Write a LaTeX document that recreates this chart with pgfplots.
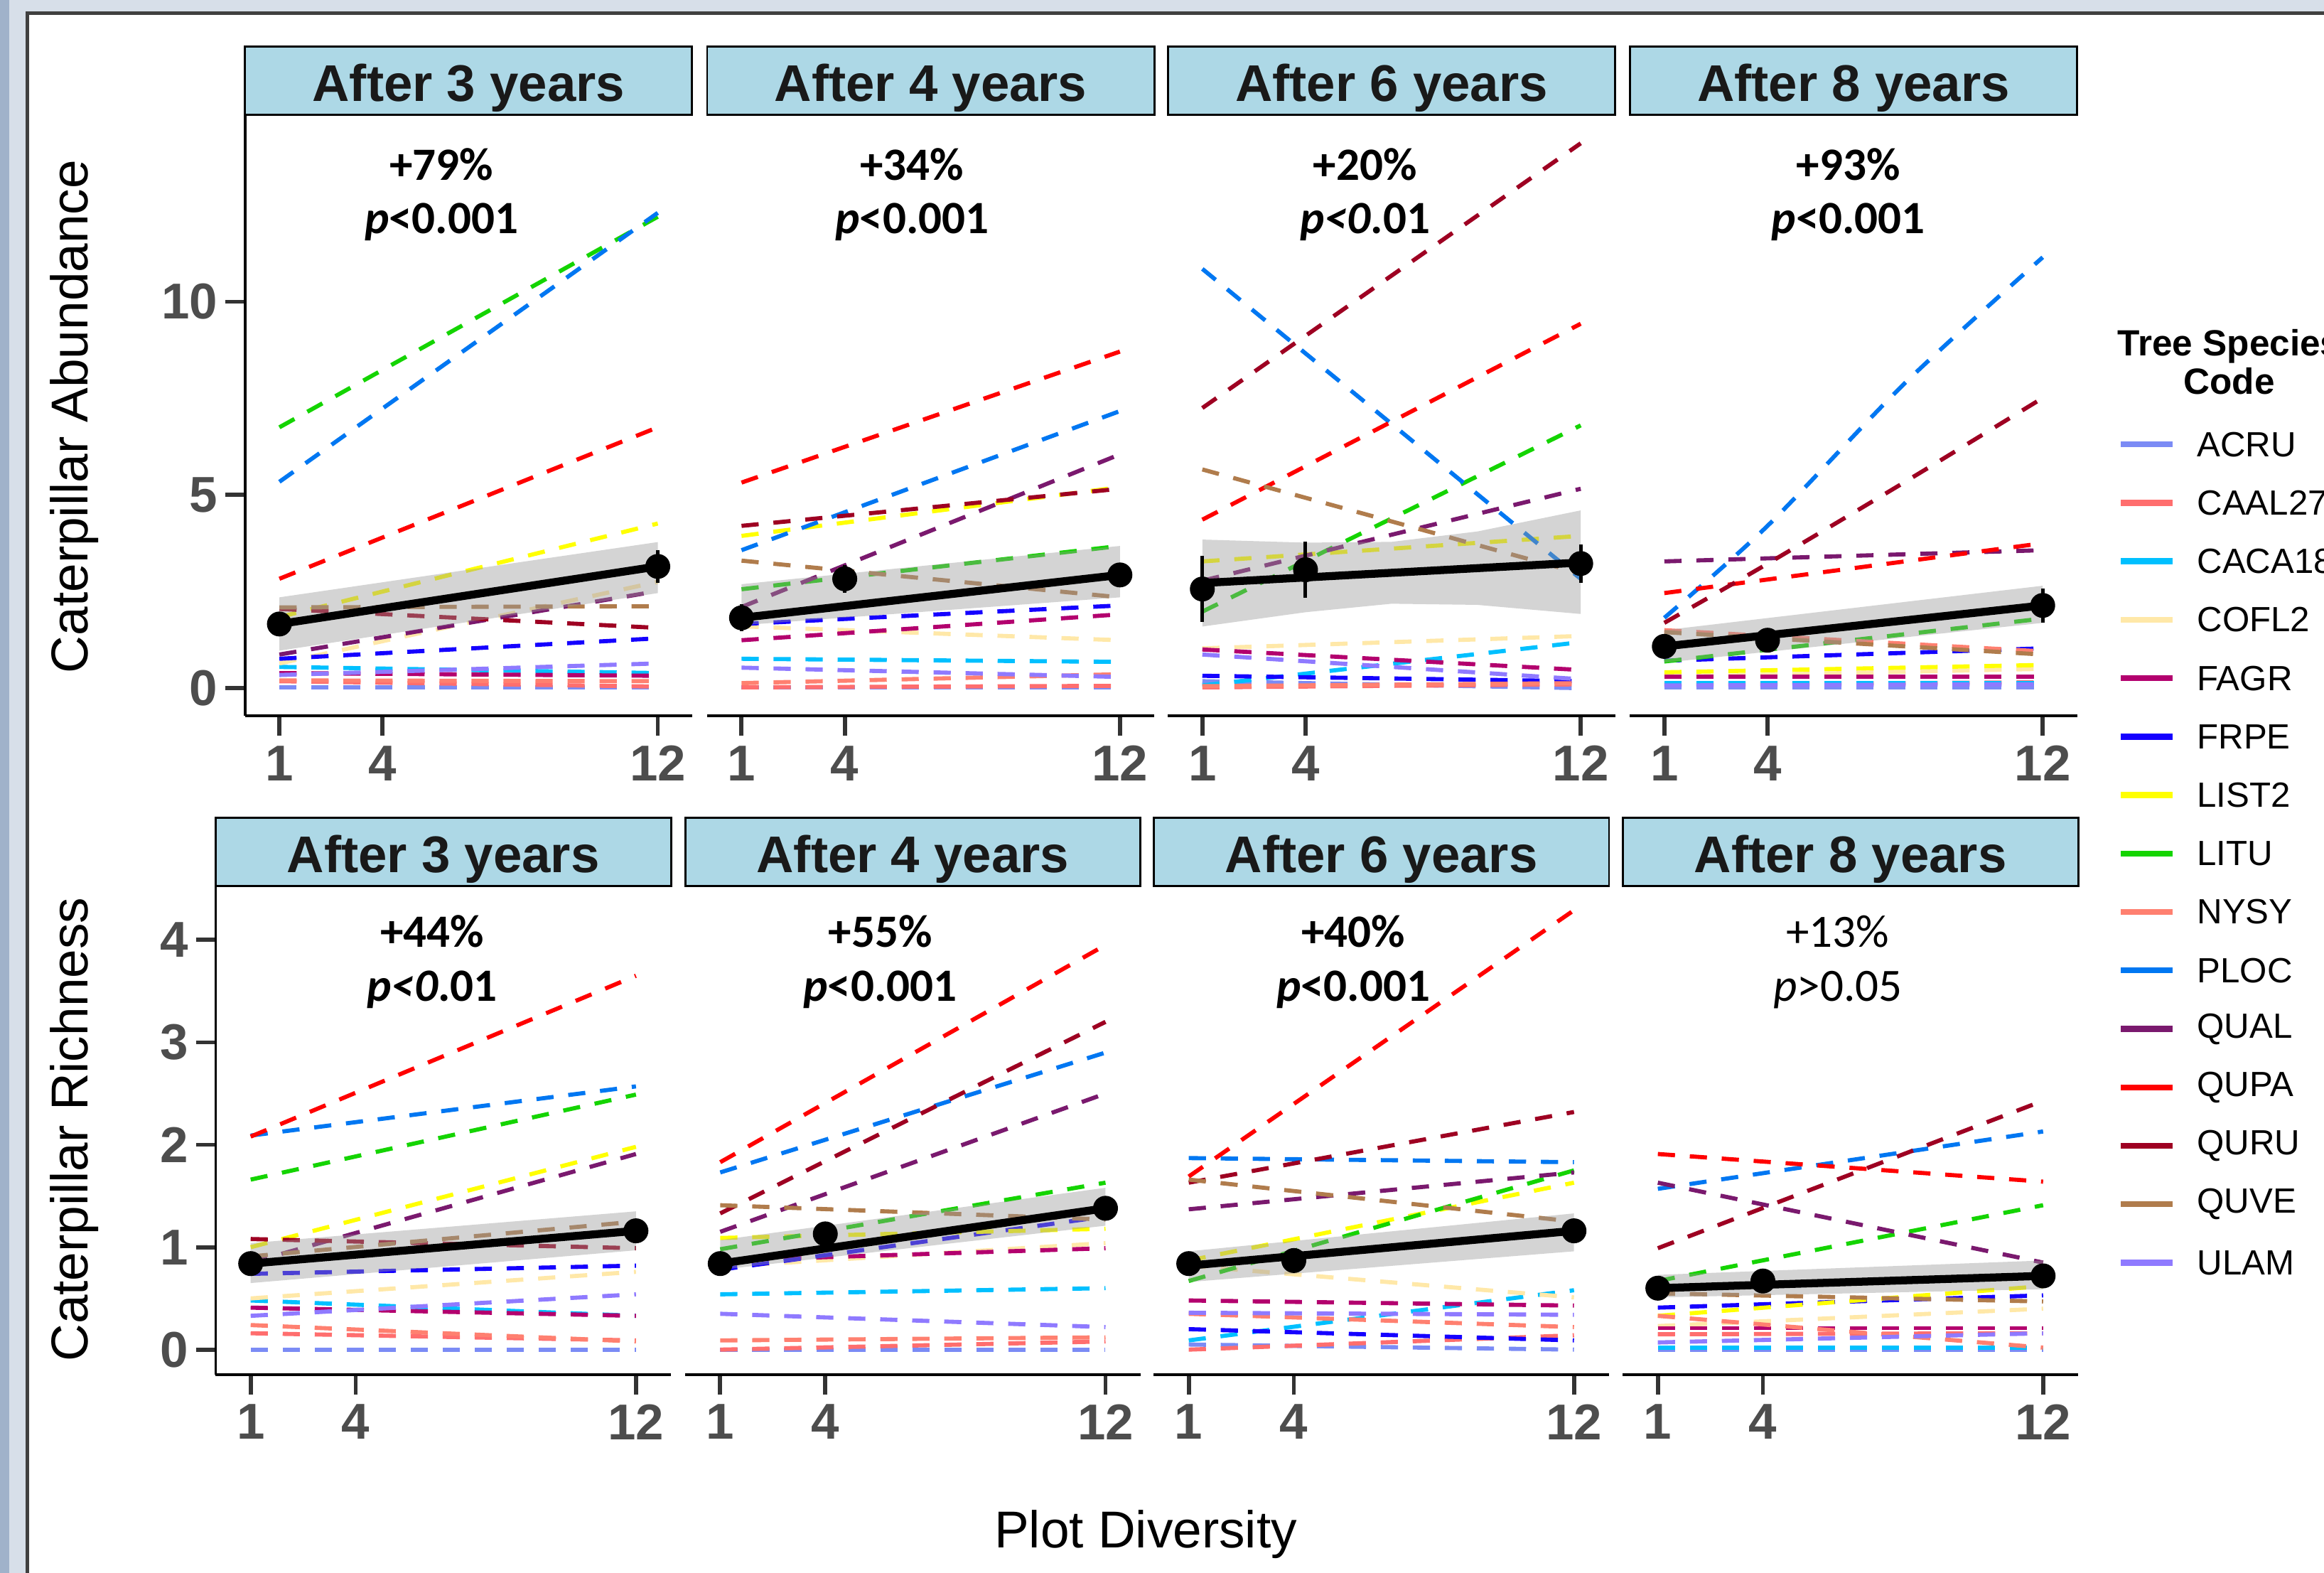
\documentclass[border=0pt]{standalone}
\usepackage{fontspec}
\setmainfont{Liberation Sans}
\newfontfamily\calib{Carlito}
\usepackage{pgfplots}
\pgfplotsset{compat=1.18}

\definecolor{cACRU}{HTML}{7B8BF5}
\definecolor{cCAAL27}{HTML}{FF6E6E}
\definecolor{cCACA18}{HTML}{00C0FF}
\definecolor{cCOFL2}{HTML}{FFE8A8}
\definecolor{cFAGR}{HTML}{B3006E}
\definecolor{cFRPE}{HTML}{1500FF}
\definecolor{cLIST2}{HTML}{FFFF00}
\definecolor{cLITU}{HTML}{14D400}
\definecolor{cNYSY}{HTML}{FF8070}
\definecolor{cPLOC}{HTML}{0077F2}
\definecolor{cQUAL}{HTML}{7A196E}
\definecolor{cQUPA}{HTML}{FF0000}
\definecolor{cQURU}{HTML}{9E0022}
\definecolor{cQUVE}{HTML}{B07C4C}
\definecolor{cULAM}{HTML}{8F7AFF}
\definecolor{strip}{HTML}{ADD8E6}
\definecolor{tickgrey}{HTML}{4D4D4D}
\definecolor{frameD}{HTML}{A0B2CA}
\definecolor{frameL}{HTML}{D7DFE9}
\definecolor{frameB}{HTML}{404040}

\pgfplotsset{
  every panel/.style={
    scale only axis, xmin=0, xmax=13, clip=false,
    axis x line*=bottom,
    xtick={1,4,12}, xticklabels={1,4,12},
    tick align=outside,
    major tick length=6.6pt,
    tick style={line width=1.4pt, color=black!80},
    axis line style={line width=0.9pt, black},
    ticklabel style={font=\fontsize{17}{17}\selectfont\bfseries, text=tickgrey},
    xticklabel style={inner sep=3.3pt},
    yticklabel style={inner sep=2.5pt},
    /pgf/number format/assume math mode=true,
    anchor=south west,
  },
  noy/.style={axis y line=none, ytick=\empty},
  toprow/.style={every panel, width=150.85pt, height=202.8pt, ymin=-0.72, ymax=14.84},
  botrow/.style={every panel, width=153.6pt, height=164.8pt, ymin=-0.245, ymax=4.525},
  sp/.style={line width=1.4pt, dash pattern=on 5.8pt off 5.0pt},
  rib/.style={fill=black!40, draw=none, opacity=0.42},
  mline/.style={black, line width=2.7pt},
  mpts/.style={only marks, mark=*, mark size=4pt, black,
    error bars/.cd, y dir=both, y explicit, error mark=none,
    error bar style={line width=1.2pt, black}},
}
\newcommand{\spl}[3]{\addplot[sp, color=c#1] coordinates {(1,#2) (12,#3)};}
\newcommand{\strip}[1]{%
  \draw[fill=strip, line width=0.7pt] (rel axis cs:0,1) rectangle ([yshift=23pt]rel axis cs:1,1);
  \node[anchor=base, inner sep=0pt, font=\bfseries\fontsize{17.4}{17.4}\selectfont, text=black!90] at ([yshift=4.6pt]rel axis cs:0.5,1) {#1};}
\newcommand{\annot}[6]{%
  \node[anchor=base, inner sep=0pt, font=\calib#6\fontsize{15.6}{15.6}\selectfont] at (axis cs:#1,#2) {#3};
  \node[anchor=base, inner sep=0pt, font=\calib#6\fontsize{15.6}{15.6}\selectfont] at (axis cs:#1,#4) {#5};}

\begin{document}
\begin{tikzpicture}
\useasboundingbox (0,0) rectangle (784pt,530.5pt);
\clip (0,0) rectangle (784pt,530.5pt);
\fill[white] (0,0) rectangle (784pt,530.5pt);
\fill[frameD] (0,0) rectangle (3.2pt,530.5pt);
\fill[frameL] (3.2pt,0) rectangle (8.65pt,530.5pt);
\fill[frameL] (3.2pt,526.65pt) rectangle (784pt,530.5pt);
\draw[frameB, line width=1.1pt] (9.2pt,0) -- (9.2pt,526.1pt) -- (784pt,526.1pt);

% ---------------- Top row: Abundance ----------------
\begin{axis}[toprow, at={(82.65pt,289pt)}, axis y line*=left, ytick={0,5,10}]
\spl{ACRU}{0.02}{0.02}
\spl{CAAL27}{0.18}{0.04}
\spl{CACA18}{0.55}{0.39}
\spl{COFL2}{0.64}{2.75}
\spl{FAGR}{0.39}{0.32}
\spl{FRPE}{0.76}{1.29}
\spl{LIST2}{1.84}{4.26}
\spl{LITU}{6.75}{12.2}
\spl{NYSY}{0.20}{0.18}
\spl{PLOC}{5.34}{12.3}
\spl{QUAL}{0.87}{2.51}
\spl{QUPA}{2.83}{6.75}
\spl{QURU}{2.05}{1.56}
\spl{QUVE}{2.09}{2.12}
\spl{ULAM}{0.34}{0.64}
\addplot[rib] coordinates {(1,0.97) (12,2.46) (12,3.78) (1,2.35)} -- cycle;
\addplot[mline] coordinates {(1,1.66) (12,3.15)};
\addplot[mpts] coordinates {(1,1.66) +- (0,0.2) (12,3.15) +- (0,0.42)};
\strip{After 3 years}
\annot{5.71}{13.15}{+79\%}{11.76}{\textit{p}<0.001}{\bfseries}
\end{axis}

\begin{axis}[toprow, noy, at={(238.55pt,289pt)}]
\spl{ACRU}{0.02}{0.02}
\spl{CAAL27}{0.02}{0.06}
\spl{CACA18}{0.76}{0.68}
\spl{COFL2}{1.60}{1.24}
\spl{FAGR}{1.24}{1.91}
\spl{FRPE}{1.66}{2.14}
\spl{LIST2}{3.94}{5.20}
\spl{LITU}{2.56}{3.68}
\spl{NYSY}{0.13}{0.36}
\spl{PLOC}{3.57}{7.17}
\spl{QUAL}{2.10}{6.05}
\spl{QUPA}{5.32}{8.71}
\spl{QURU}{4.20}{5.16}
\spl{QUVE}{3.30}{2.35}
\spl{ULAM}{0.53}{0.29}
\addplot[rib] coordinates {(1,1.63) (12,2.35) (12,3.68) (1,2.69)} -- cycle;
\addplot[mline] coordinates {(1,1.82) (12,2.93)};
\addplot[mpts] coordinates {(1,1.82) +- (0,0.35) (4,2.83) +- (0,0.36) (12,2.93) +- (0,0.3)};
\strip{After 4 years}
\annot{5.96}{13.15}{+34\%}{11.76}{\textit{p}<0.001}{\bfseries}
\end{axis}

\begin{axis}[toprow, noy, at={(394pt,289pt)}]
\spl{ACRU}{0.18}{0.0}
\spl{CAAL27}{0.02}{0.10}
\spl{CACA18}{0.07}{1.19}
\spl{COFL2}{1.03}{1.35}
\spl{FAGR}{1.00}{0.47}
\spl{FRPE}{0.32}{0.18}
\spl{LIST2}{3.28}{3.94}
\spl{LITU}{1.98}{6.80}
\spl{NYSY}{0.05}{0.13}
\spl{PLOC}{10.85}{2.83}
\spl{QUAL}{2.78}{5.16}
\spl{QUPA}{4.36}{9.43}
\spl{QURU}{7.25}{14.1}
\spl{QUVE}{5.66}{2.97}
\spl{ULAM}{0.87}{0.23}
\addplot[rib] coordinates {(1,1.595) (4,1.965) (6.5,2.185) (9,2.155) (12,1.92) (12,4.6) (9,4.055) (6.5,3.785) (4,3.765) (1,3.845)} -- cycle;
\addplot[mline] coordinates {(1,2.72) (12,3.25)};
\addplot[mpts] coordinates {(1,2.565) +- (0,0.85) (4,3.065) +- (0,0.72) (12,3.225) +- (0,0.5)};
\strip{After 6 years}
\annot{5.73}{13.15}{+20\%}{11.76}{\textit{p<0}.01}{\bfseries}
\end{axis}

\begin{axis}[toprow, noy, at={(549.85pt,289pt)}]
\spl{ACRU}{0.02}{0.02}
\spl{CAAL27}{0.10}{0.15}
\spl{CACA18}{0.13}{0.13}
\spl{COFL2}{0.29}{0.50}
\spl{FAGR}{0.29}{0.29}
\spl{FRPE}{0.71}{1.03}
\spl{LIST2}{0.41}{0.60}
\spl{LITU}{0.69}{1.80}
\spl{NYSY}{1.50}{0.95}
\addplot[sp, color=cPLOC, smooth] coordinates {(1,1.82) (4,4.2) (8,7.9) (12,11.15)};
\spl{QUAL}{3.28}{3.57}
\spl{QUPA}{2.46}{3.75}
\addplot[sp, color=cQURU, smooth] coordinates {(1,1.69) (4,3.22) (8,5.34) (12,7.51)};
\spl{QUVE}{1.45}{0.87}
\spl{ULAM}{0.07}{0.10}
\addplot[rib] coordinates {(1,0.66) (12,1.69) (12,2.65) (1,1.5)} -- cycle;
\addplot[mline] coordinates {(1,1.08) (12,2.14)};
\addplot[mpts] coordinates {(1,1.08) +- (0,0.15) (4,1.24) +- (0,0.15) (12,2.14) +- (0,0.44)};
\strip{After 8 years}
\annot{6.35}{13.15}{+93\%}{11.76}{\textit{p}<0.001}{\bfseries}
\end{axis}

% ---------------- Bottom row: Richness ----------------
\begin{axis}[botrow, at={(72.75pt,66.8pt)}, axis y line*=left, ytick={0,1,2,3,4}]
\spl{ACRU}{0.0}{0.0}
\spl{CAAL27}{0.16}{0.09}
\spl{CACA18}{0.48}{0.33}
\spl{COFL2}{0.50}{0.76}
\spl{FAGR}{0.41}{0.33}
\spl{FRPE}{0.74}{0.82}
\spl{LIST2}{1.00}{1.98}
\spl{LITU}{1.66}{2.49}
\spl{NYSY}{0.24}{0.08}
\spl{PLOC}{2.09}{2.57}
\spl{QUAL}{0.85}{1.91}
\spl{QUPA}{2.08}{3.65}
\spl{QURU}{1.08}{0.99}
\spl{QUVE}{0.91}{1.25}
\spl{ULAM}{0.33}{0.54}
\addplot[rib] coordinates {(1,0.65) (12,0.97) (12,1.35) (1,1.04)} -- cycle;
\addplot[mline] coordinates {(1,0.84) (12,1.16)};
\addplot[mpts] coordinates {(1,0.84) +- (0,0.08) (12,1.16) +- (0,0.1)};
\strip{After 3 years}
\annot{6.18}{3.93}{+44\%}{3.40}{\textit{p<0}.01}{\bfseries}
\end{axis}

\begin{axis}[botrow, noy, at={(231.15pt,66.8pt)}]
\spl{ACRU}{0.0}{0.0}
\spl{CAAL27}{0.0}{0.08}
\spl{CACA18}{0.54}{0.60}
\spl{COFL2}{0.81}{1.04}
\spl{FAGR}{0.87}{0.99}
\spl{FRPE}{0.78}{1.30}
\spl{LIST2}{1.09}{1.18}
\spl{LITU}{0.98}{1.63}
\spl{NYSY}{0.09}{0.12}
\spl{PLOC}{1.73}{2.90}
\spl{QUAL}{1.15}{2.50}
\spl{QUPA}{1.83}{3.95}
\spl{QURU}{1.33}{3.20}
\spl{QUVE}{1.41}{1.27}
\spl{ULAM}{0.35}{0.22}
\addplot[rib] coordinates {(1,0.78) (12,1.21) (12,1.58) (1,1.07)} -- cycle;
\addplot[mline] coordinates {(1,0.84) (12,1.38)};
\addplot[mpts] coordinates {(1,0.84) +- (0,0.08) (4,1.13) +- (0,0.08) (12,1.38) +- (0,0.08)};
\strip{After 4 years}
\annot{5.57}{3.93}{+55\%}{3.40}{\textit{p}<0.001}{\bfseries}
\end{axis}

\begin{axis}[botrow, noy, at={(389.2pt,66.8pt)}]
\spl{ACRU}{0.05}{0.0}
\spl{CAAL27}{0.0}{0.14}
\spl{CACA18}{0.09}{0.58}
\spl{COFL2}{0.82}{0.51}
\spl{FAGR}{0.48}{0.43}
\spl{FRPE}{0.20}{0.09}
\spl{LIST2}{0.87}{1.63}
\spl{LITU}{0.67}{1.75}
\spl{NYSY}{0.35}{0.22}
\spl{PLOC}{1.87}{1.83}
\spl{QUAL}{1.37}{1.73}
\spl{QUPA}{1.69}{4.29}
\spl{QURU}{1.63}{2.32}
\spl{QUVE}{1.66}{1.25}
\spl{ULAM}{0.36}{0.34}
\addplot[rib] coordinates {(1,0.66) (12,0.96) (12,1.33) (1,0.96)} -- cycle;
\addplot[mline] coordinates {(1,0.82) (12,1.16)};
\addplot[mpts] coordinates {(1,0.84) +- (0,0.08) (4,0.87) +- (0,0.08) (12,1.16) +- (0,0.08)};
\strip{After 6 years}
\annot{5.70}{3.93}{+40\%}{3.40}{\textit{p}<0.001}{\bfseries}
\end{axis}

\begin{axis}[botrow, noy, at={(547.45pt,66.8pt)}]
\spl{ACRU}{0.0}{0.0}
\spl{CAAL27}{0.15}{0.16}
\spl{CACA18}{0.02}{0.02}
\spl{COFL2}{0.23}{0.40}
\spl{FAGR}{0.21}{0.21}
\spl{FRPE}{0.41}{0.53}
\spl{LIST2}{0.33}{0.62}
\spl{LITU}{0.67}{1.41}
\spl{NYSY}{0.33}{0.02}
\spl{PLOC}{1.57}{2.13}
\spl{QUAL}{1.63}{0.85}
\spl{QUPA}{1.91}{1.64}
\spl{QURU}{0.99}{2.43}
\spl{QUVE}{0.55}{0.47}
\spl{ULAM}{0.07}{0.16}
\addplot[rib] coordinates {(1,0.51) (12,0.59) (12,0.87) (1,0.73)} -- cycle;
\addplot[mline] coordinates {(1,0.6) (12,0.72)};
\addplot[mpts] coordinates {(1,0.6) +- (0,0.06) (4,0.67) +- (0,0.06) (12,0.72) +- (0,0.06)};
\strip{After 8 years}
\annot{6.14}{3.93}{+13\%}{3.40}{\textit{p}>0.05}{}
\end{axis}

% ---------------- Axis titles ----------------
\node[rotate=90, anchor=base, inner sep=0pt, font=\fontsize{17.5}{17.5}\selectfont] at (29.5pt,390pt) {Caterpillar Abundance};
\node[rotate=90, anchor=base, inner sep=0pt, font=\fontsize{17.5}{17.5}\selectfont] at (29.5pt,149.5pt) {Caterpillar Richness};
\node[anchor=base, inner sep=0pt, font=\fontsize{17.5}{17.5}\selectfont] at (386.5pt,8.5pt) {Plot Diversity};

% ---------------- Legend ----------------
\node[anchor=base, inner sep=0pt, font=\bfseries\fontsize{12.3}{12.3}\selectfont] at (752pt,410.6pt) {Tree Species};
\node[anchor=base, inner sep=0pt, font=\bfseries\fontsize{12.3}{12.3}\selectfont] at (752pt,397.6pt) {Code};
\foreach \n [count=\i from 0] in {ACRU,CAAL27,CACA18,COFL2,FAGR,FRPE,LIST2,LITU,NYSY,PLOC,QUAL,QUPA,QURU,QUVE,ULAM} {
  \pgfmathsetmacro{\yy}{380.6-19.715*\i}
  \draw[color=c\n, line width=2pt] (715.5pt,\yy pt) -- (733pt,\yy pt);
  \node[anchor=west, inner sep=0pt, font=\fontsize{11.8}{11.8}\selectfont] at (741pt,\yy pt) {\n};
}
\end{tikzpicture}
\end{document}
